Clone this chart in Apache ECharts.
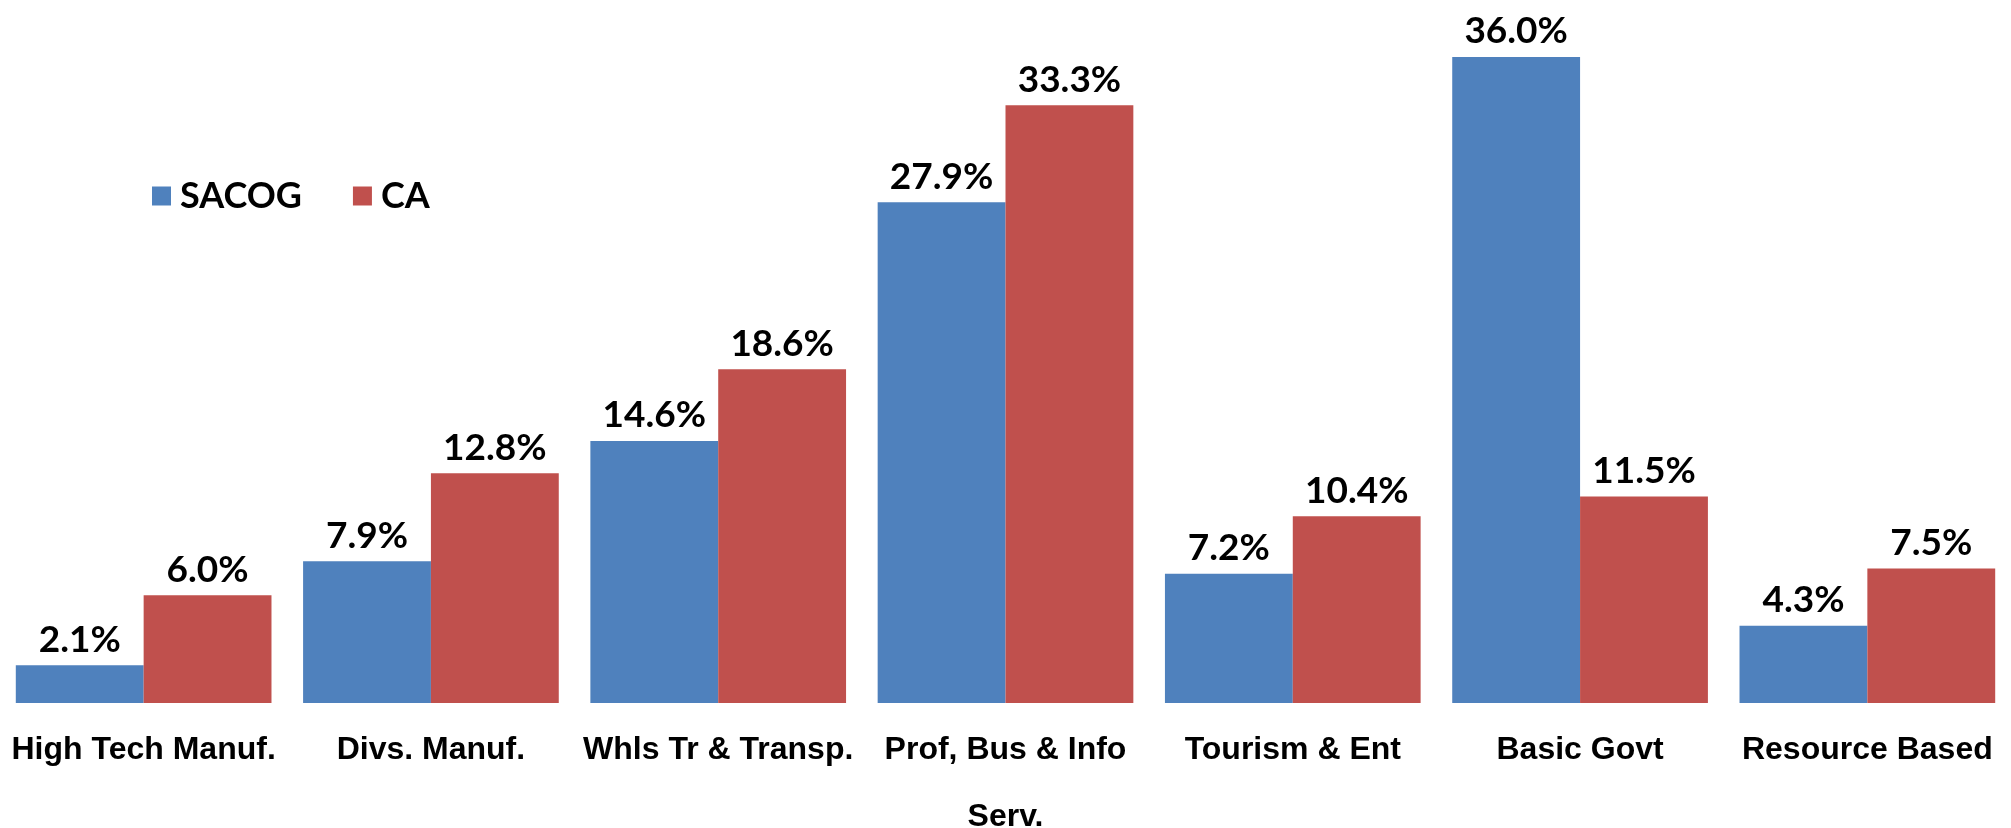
<!DOCTYPE html>
<html>
<head>
<meta charset="utf-8">
<script src="https://cdn.jsdelivr.net/npm/echarts@6/dist/echarts.min.js"></script>
<style>
html,body{margin:0;padding:0;background:#fff;}
#chart{width:2011px;height:828px;}
</style>
</head>
<body>
<div id="chart"></div>
<script>
var categories = ["High Tech Manuf.", "Divs. Manuf.", "Whls Tr & Transp.", "Prof, Bus & Info\nServ.", "Tourism & Ent", "Basic Govt", "Resource Based"];
var sacog = [2.1, 7.9, 14.6, 27.9, 7.2, 36.0, 4.3];
var ca = [6.0, 12.8, 18.6, 33.3, 10.4, 11.5, 7.5];
var seriesNames = ["SACOG", "CA"];

var chart = echarts.init(document.getElementById('chart'), null, {renderer: 'canvas'});
var labelStyle = {
  show: true,
  position: 'top',
  distance: 7,
  fontFamily: 'Lato',
  fontWeight: 'bold',
  fontSize: 37,
  lineHeight: 37,
  color: '#000',
  formatter: function (p) { return p.value.toFixed(1) + '%'; }
};
chart.setOption({
  animation: false,
  backgroundColor: '#fff',
  color: ['#4F81BD', '#C0504D'],
  legend: {
    left: 152,
    top: 178,
    padding: 0,
    itemWidth: 19,
    itemHeight: 19,
    itemGap: 51,
    icon: 'rect',
    data: seriesNames,
    textStyle: {
      fontFamily: 'Lato',
      fontWeight: 'bold',
      fontSize: 36,
      color: '#000',
      padding: [0, 0, 0, 4]
    }
  },
  grid: {left: 0, right: 0, top: 21, bottom: 125, containLabel: false, outerBoundsMode: 'none'},
  xAxis: {
    type: 'category',
    data: categories,
    axisLine: {show: false},
    axisTick: {show: false},
    axisLabel: {
      interval: 0,
      margin: 14,
      fontFamily: 'Liberation Sans',
      fontWeight: 'bold',
      fontSize: 32,
      lineHeight: 67,
      color: '#000'
    }
  },
  yAxis: {
    type: 'value',
    min: 0,
    max: 38,
    show: false,
    splitLine: {show: false}
  },
  series: [
    {name: seriesNames[0], type: 'bar', data: sacog, barGap: '0%', barCategoryGap: '11%', label: labelStyle},
    {name: seriesNames[1], type: 'bar', data: ca, barGap: '0%', barCategoryGap: '11%', label: labelStyle}
  ]
});
</script>
</body>
</html>
